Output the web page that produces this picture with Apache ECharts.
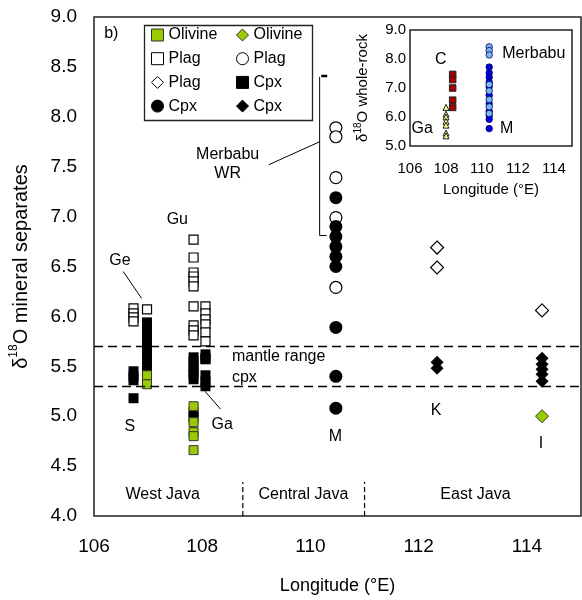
<!DOCTYPE html>
<html>
<head>
<meta charset="utf-8">
<script src="https://cdn.jsdelivr.net/npm/echarts@6/dist/echarts.min.js"></script>
<style>
  html, body { margin: 0; padding: 0; background: #fff; }
  #chart { width: 582px; height: 600px; }
</style>
</head>
<body>
<div id="chart"></div>
<script>
// mineral separates, [longitude, d18O]
const olivineSquare = [[106.98, 5.41], [106.98, 5.32], [107.84, 5.10], [107.84, 4.94], [107.84, 4.84], [107.84, 4.80], [107.84, 4.66]];
const olivineDiamond = [[114.28, 5.00]];
const plagSquare = [
  [106.73, 6.08], [106.73, 6.03], [106.73, 5.99], [106.73, 5.95], [106.98, 6.07],
  [107.84, 6.77], [107.84, 6.59], [107.84, 6.44], [107.84, 6.40], [107.84, 6.35], [107.84, 6.30],
  [107.84, 6.10], [107.84, 5.91], [107.84, 5.86], [107.84, 5.81],
  [108.06, 6.10], [108.06, 6.03], [108.06, 5.97], [108.06, 5.92], [108.06, 5.84], [108.06, 5.75], [108.06, 5.58]
];
const plagCircle = [[110.47, 7.89], [110.47, 7.80], [110.47, 7.39], [110.47, 6.99], [110.47, 6.29]];
const plagDiamond = [[112.34, 6.69], [112.34, 6.49], [114.28, 6.06]];
const cpxSquare = [
  [106.73, 5.45], [106.73, 5.40], [106.73, 5.36], [106.73, 5.18],
  [106.98, 5.94], [106.98, 5.90], [106.98, 5.86], [106.98, 5.82], [106.98, 5.78], [106.98, 5.74], [106.98, 5.70],
  [106.98, 5.66], [106.98, 5.62], [106.98, 5.58], [106.98, 5.54], [106.98, 5.50], [106.98, 5.47],
  [107.84, 5.59], [107.84, 5.55], [107.84, 5.50], [107.84, 5.46], [107.84, 5.42], [107.84, 5.37],
  [107.84, 5.04], [107.84, 4.99],
  [108.06, 5.62], [108.06, 5.57], [108.06, 5.41], [108.06, 5.35], [108.06, 5.30]
];
const cpxCircle = [
  [110.47, 7.19], [110.47, 6.90], [110.47, 6.80], [110.47, 6.70],
  [110.47, 6.60], [110.47, 6.50], [110.47, 5.89], [110.47, 5.40], [110.47, 5.08]
];
const cpxDiamond = [[112.34, 5.54], [112.34, 5.48], [114.28, 5.58], [114.28, 5.52], [114.28, 5.47], [114.28, 5.42], [114.28, 5.35]];

// whole-rock inset
const wrGa = [[108.0, 6.33], [108.0, 6.10], [108.0, 6.00], [108.0, 5.85], [108.0, 5.72], [108.0, 5.45], [108.0, 5.35]];
const wrC = [[108.37, 7.47], [108.37, 7.29], [108.37, 7.00], [108.37, 6.58], [108.37, 6.33]];
const wrMerbabuDark = [[110.4, 7.72], [110.4, 7.52], [110.4, 7.37], [110.4, 7.20], [110.4, 7.05], [110.4, 6.75], [110.4, 6.45], [110.4, 6.20], [110.4, 6.05], [110.4, 5.92], [110.4, 5.60]];
const wrMerbabuLight = [[110.4, 8.42], [110.4, 8.29], [110.4, 8.14], [110.4, 7.12], [110.4, 6.90], [110.4, 6.60], [110.4, 6.35], [110.4, 6.12]];

// text annotations
const mainLabels = [
  [106.32, 8.83, 'b)'], [108.47, 7.53, 'Merbabu\nWR'], [106.48, 6.56, 'Ge'], [107.54, 6.97, 'Gu'],
  [106.66, 4.90, 'S'], [108.37, 4.92, 'Ga'], [110.46, 4.80, 'M'], [112.32, 5.06, 'K'], [114.26, 4.73, 'I'],
  [107.27, 4.21, 'West Java'], [109.87, 4.21, 'Central Java'], [113.05, 4.21, 'East Java']
];
const leftLabels = [[108.54, 5.60, 'mantle range'], [108.54, 5.39, 'cpx']];
const insetLabels = [[107.71, 7.97, 'C'], [112.88, 8.17, 'Merbabu'], [106.68, 5.61, 'Ga'], [111.37, 5.60, 'M']];

const mantleRange = [5.3, 5.7];
const leaders = [
  [[106.88, 6.18], [106.54, 6.45]],
  [[108.05, 5.25], [108.34, 5.07]],
  [[109.23, 7.52], [110.17, 7.75]],
  [[110.17, 8.40], [110.17, 6.81]],
  [[110.17, 6.81], [110.30, 6.81]]
];
const bracketTop = [[110.20, 8.41], [110.31, 8.41]];
const dividers = [[[108.75, 4.0], [108.75, 4.34]], [[111.0, 4.0], [111.0, 4.34]]];

const legendText = {
  'ol-sq': 'Olivine', 'ol-di': 'Olivine', 'pl-sq': 'Plag', 'pl-ci': 'Plag',
  'pl-di': 'Plag', 'cpx-sq': 'Cpx', 'cpx-ci': 'Cpx', 'cpx-di': 'Cpx'
};

const font = 'Liberation Sans, Arial, sans-serif';
const chart = echarts.init(document.getElementById('chart'));

function pts(name, data, symbol, size, fill, border, bw) {
  return {
    name: name, type: 'scatter', data: data, symbol: symbol, symbolSize: size,
    itemStyle: { color: fill, borderColor: border, borderWidth: bw, opacity: 1 },
    emphasis: { disabled: true }, silent: true
  };
}

function textSeries(list, pos, size, xi) {
  return {
    type: 'scatter', xAxisIndex: xi, yAxisIndex: xi, symbolSize: 1, silent: true, z: 10,
    itemStyle: { color: 'rgba(0,0,0,0)', opacity: 1 },
    emphasis: { disabled: true },
    data: list.map(l => ({ value: [l[0], l[1]], name: l[2] })),
    label: {
      show: true, position: pos, distance: 0, formatter: p => p.name, opacity: 1,
      color: '#000', fontSize: size, fontFamily: font, lineHeight: 19, textBorderWidth: 0
    }
  };
}

function seg(data, width, dash) {
  return {
    type: 'line', data: data, symbol: 'none', silent: true, z: 3,
    lineStyle: { color: '#000', width: width, type: dash || 'solid' }
  };
}

const legendBase = {
  orient: 'vertical', top: 26, padding: 0, itemGap: 5.7, itemWidth: 12, itemHeight: 12,
  selectedMode: false, formatter: n => legendText[n],
  textStyle: { fontSize: 16, fontFamily: font, color: '#000', lineHeight: 18 },
  itemStyle: { borderWidth: 1 }
};

const option = {
  animation: false,
  backgroundColor: '#fff',
  grid: [
    { left: 93, top: 17, width: 488, height: 501, show: true, borderColor: '#222', borderWidth: 1.5, backgroundColor: 'transparent' },
    { left: 410, top: 30, width: 162, height: 116, show: true, borderColor: '#222', borderWidth: 1.5, backgroundColor: '#fff', z: 5 }
  ],
  legend: [
    Object.assign({}, legendBase, { left: 151, data: ['ol-sq', 'pl-sq', 'pl-di', 'cpx-ci'] }),
    Object.assign({}, legendBase, { left: 236, data: ['ol-di', 'pl-ci', 'cpx-sq', 'cpx-di'] })
  ],
  graphic: [
    { type: 'rect', left: 142, top: 23, shape: { width: 168, height: 95 }, style: { fill: 'none', stroke: '#222', lineWidth: 1.3 }, z: 100 }
  ],
  xAxis: [
    {
      gridIndex: 0, type: 'value', min: 106, max: 115, interval: 2,
      name: 'Longitude (°E)', nameLocation: 'middle', nameGap: 61,
      nameTextStyle: { fontSize: 18, fontFamily: font, color: '#000' },
      axisLine: { show: false }, axisTick: { show: false }, splitLine: { show: false },
      axisLabel: { fontSize: 19, fontFamily: font, color: '#000', margin: 21, showMaxLabel: false }
    },
    {
      gridIndex: 1, type: 'value', min: 106, max: 115, interval: 2,
      name: 'Longitude (°E)', nameLocation: 'middle', nameGap: 36,
      nameTextStyle: { fontSize: 15, fontFamily: font, color: '#000' },
      axisLine: { show: false }, splitLine: { show: false },
      axisTick: { show: true, inside: true, length: 5, lineStyle: { color: '#222' } },
      axisLabel: { fontSize: 15, fontFamily: font, color: '#000', margin: 15, showMaxLabel: false }
    }
  ],
  yAxis: [
    {
      gridIndex: 0, type: 'value', min: 4, max: 9, interval: 0.5,
      name: 'δ{sup|18}O mineral separates', nameLocation: 'middle', nameGap: 60, nameRotate: 90,
      nameTextStyle: {
        fontSize: 20, fontFamily: font, color: '#000', lineHeight: 26,
        rich: { sup: { fontSize: 12, fontFamily: font, color: '#000', lineHeight: 15, verticalAlign: 'top' } }
      },
      axisLine: { show: false }, axisTick: { show: false }, splitLine: { show: false },
      axisLabel: { fontSize: 19, fontFamily: font, color: '#000', margin: 17, formatter: v => v.toFixed(1) }
    },
    {
      gridIndex: 1, type: 'value', min: 5, max: 9, interval: 1,
      name: 'δ{sup|18}O whole-rock', nameLocation: 'middle', nameGap: 37, nameRotate: 90,
      nameTextStyle: {
        fontSize: 15, fontFamily: font, color: '#000', lineHeight: 20,
        rich: { sup: { fontSize: 10, fontFamily: font, color: '#000', lineHeight: 12, verticalAlign: 'top' } }
      },
      axisLine: { show: false }, axisTick: { show: false }, splitLine: { show: false },
      axisLabel: { fontSize: 15, fontFamily: font, color: '#000', margin: 4, formatter: v => v.toFixed(1) }
    }
  ],
  series: [
    {
      type: 'line', data: [], silent: true,
      markLine: {
        silent: true, symbol: 'none', label: { show: false },
        lineStyle: { color: '#000', width: 1.3, type: [9, 5] },
        data: mantleRange.map(v => ({ yAxis: v }))
      }
    },
    ...leaders.map(s => seg(s, 1)),
    seg(bracketTop, 2.5),
    ...dividers.map(s => seg(s, 1.2, [5, 3])),
    pts('pl-sq', plagSquare, 'rect', 9, '#fff', '#000', 1.2),
    pts('pl-ci', plagCircle, 'circle', 12, '#fff', '#000', 1.2),
    pts('pl-di', plagDiamond, 'diamond', 13, '#fff', '#000', 1.2),
    pts('cpx-sq', cpxSquare, 'rect', 10, '#000', '#000', 0),
    pts('cpx-ci', cpxCircle, 'circle', 13, '#000', '#000', 0),
    pts('cpx-di', cpxDiamond, 'diamond', 13, '#000', '#000', 0),
    pts('ol-sq', olivineSquare, 'rect', 9, '#99cc00', '#333', 1),
    pts('ol-di', olivineDiamond, 'diamond', 13, '#99cc00', '#333', 1),
    Object.assign(pts('wr-ga', wrGa, 'triangle', 6, '#ffff99', '#222', 1), { xAxisIndex: 1, yAxisIndex: 1, z: 6 }),
    Object.assign(pts('wr-c', wrC, 'rect', 6.5, '#a00000', '#222', 1), { xAxisIndex: 1, yAxisIndex: 1, z: 6 }),
    Object.assign(pts('wr-md', wrMerbabuDark, 'circle', 6.5, '#0000dd', '#000066', 0.8), { xAxisIndex: 1, yAxisIndex: 1, z: 6 }),
    Object.assign(pts('wr-ml', wrMerbabuLight, 'circle', 6.5, '#7ab8f0', '#000066', 0.8), { xAxisIndex: 1, yAxisIndex: 1, z: 6 }),
    textSeries(mainLabels, 'inside', 16, 0),
    textSeries(leftLabels, 'right', 16, 0),
    Object.assign(textSeries(insetLabels, 'inside', 16, 1), { z: 7 })
  ]
};

chart.setOption(option);
</script>
</body>
</html>
